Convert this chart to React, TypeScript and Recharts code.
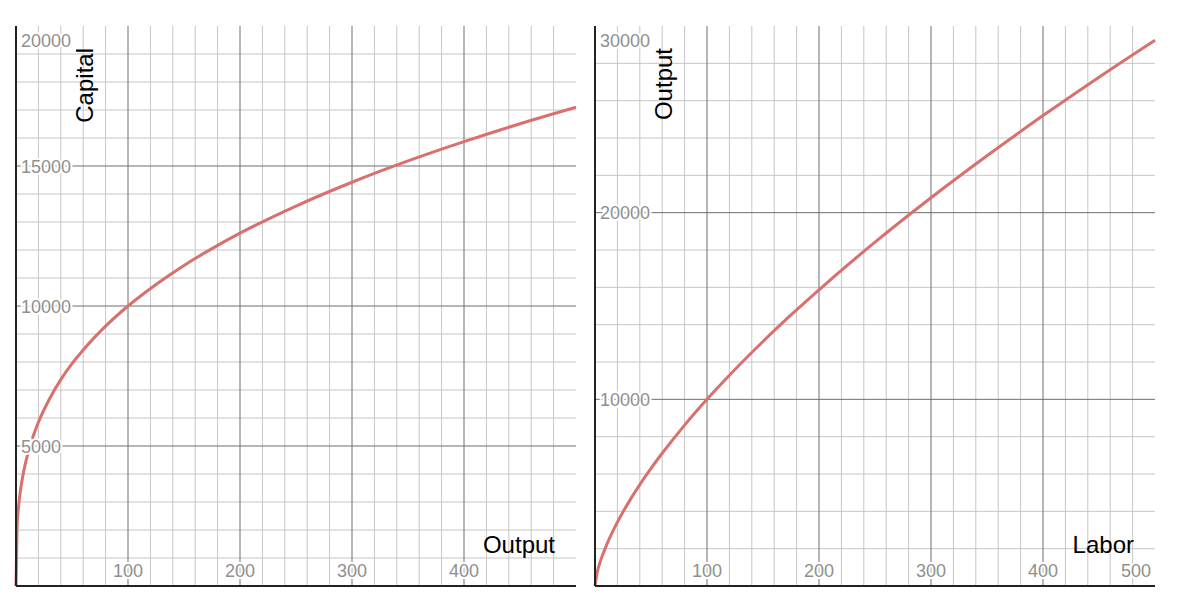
import { LineChart, Line, XAxis, YAxis, ReferenceLine, Label } from "recharts";

// left panel: capital needed per unit of output
const outputLevels = [0, 1, 2, 4, 6, 8, 10, 15, 20, 30, 40, 50, 60, 80, 100, 125, 150, 175, 200, 250, 300, 350, 400, 450, 500];
const capitalValues = [0, 2150, 2710, 3420, 3910, 4310, 4640, 5310, 5850, 6690, 7370, 7940, 8430, 9280, 10000, 10770, 11450, 12050, 12600, 13570, 14420, 15180, 15870, 16510, 17100];

// right panel: output per unit of labor
const laborLevels = [0, 2, 5, 10, 20, 30, 40, 50, 60, 80, 100, 125, 150, 175, 200, 250, 300, 350, 400, 450, 500];
const outputValues = [0, 740, 1360, 2150, 3420, 4480, 5430, 6300, 7110, 8620, 10000, 11600, 13100, 14520, 15870, 18420, 20800, 23050, 25200, 27260, 29240];

const xTickLabels = [100, 200, 300, 400];
const xTickLabelsRight = [100, 200, 300, 400, 500];
const xMinor = [20, 40, 60, 80, 120, 140, 160, 180, 220, 240, 260, 280, 320, 340, 360, 380, 420, 440, 460, 480];
const xMajor = [100, 200, 300, 400];

const leftYTicks = [5000, 10000, 15000, 20000];
const leftYMinor = [1000, 2000, 3000, 4000, 6000, 7000, 8000, 9000, 11000, 12000, 13000, 14000, 16000, 17000, 18000, 19000];
const leftYMajor = [5000, 10000, 15000];

const rightYTicks = [10000, 20000, 30000];
const rightYMinor = [2000, 4000, 6000, 8000, 12000, 14000, 16000, 18000, 22000, 24000, 26000, 28000];
const rightYMajor = [10000, 20000];

const FONT = "'Liberation Sans', Arial, sans-serif";
const CURVE = "#d8706e";
const MINOR = "#c6c6c6";
const MAJOR = "#6e6e6e";
const TICK = "#8f8f8f";

const halo = { stroke: "#fff", strokeWidth: 4, paintOrder: "stroke" as const };

function Panel({ data, xMax, yMax, xTicks, xMinorLines, yTicks, yMinorLines, yMajorLines, xLabel, yLabel, left, width, marginRight }: any) {
  const xTick = (p: any) => {
    const edge = p.payload.value >= xMax;
    return (
      <text key={p.payload.value} x={edge ? p.x - 4 : p.x} y={p.y - 9} textAnchor={edge ? "end" : "middle"}
        fontSize={18} fontFamily={FONT} fill={TICK} style={halo}>
        {p.payload.value}
      </text>
    );
  };
  const yTick = (p: any) => {
    const top = p.payload.value >= yMax;
    return (
      <text key={p.payload.value} x={p.x + 5} y={top ? p.y + 20.5 : p.y + 6.5} textAnchor="start"
        fontSize={18} fontFamily={FONT} fill={TICK} style={halo}>
        {p.payload.value}
      </text>
    );
  };

  return (
    <div style={{ position: "absolute", top: 0, left }}>
      <LineChart width={width} height={610} data={data} margin={{ top: 26, right: marginRight, bottom: 23, left: 15 }}>
        {xMinorLines.map((v: number) => (
          <ReferenceLine key={`xm${v}`} x={v} stroke={MINOR} strokeWidth={1} />
        ))}
        {yMinorLines.map((v: number) => (
          <ReferenceLine key={`ym${v}`} y={v} stroke={MINOR} strokeWidth={1} />
        ))}
        {xMajor.map((v) => (
          <ReferenceLine key={`xM${v}`} x={v} stroke={MAJOR} strokeWidth={1} />
        ))}
        {yMajorLines.map((v: number) => (
          <ReferenceLine key={`yM${v}`} y={v} stroke={MAJOR} strokeWidth={1} />
        ))}
        <XAxis dataKey="x" type="number" domain={[0, xMax]} ticks={xTicks} interval={0} height={1}
          tickSize={0} tickMargin={0} tick={xTick} axisLine={{ stroke: "#222", strokeWidth: 2 }}>
          <Label content={(props: any) => {
            const vb = props.viewBox;
            return (
              <text x={vb.x + vb.width - 21} y={vb.y - 33} textAnchor="end" fontSize={24} fontFamily={FONT} fill="#000">
                {xLabel}
              </text>
            );
          }} />
        </XAxis>
        <YAxis type="number" domain={[0, yMax]} ticks={yTicks} interval={0} width={1}
          tickSize={0} tickMargin={0} tick={yTick} axisLine={{ stroke: "#222", strokeWidth: 2 }}>
          <Label content={(props: any) => {
            const vb = props.viewBox;
            const bx = vb.x + vb.width + 77;
            const by = vb.y + 22;
            return (
              <text x={bx} y={by} transform={`rotate(-90 ${bx} ${by})`} textAnchor="end" fontSize={24} fontFamily={FONT} fill="#000">
                {yLabel}
              </text>
            );
          }} />
        </YAxis>
        <Line type="monotone" dataKey="y" stroke={CURVE} strokeWidth={3} dot={false} isAnimationActive={false} />
      </LineChart>
    </div>
  );
}

export default function App() {
  const capitalData = outputLevels.map((x, i) => ({ x, y: capitalValues[i] }));
  const laborData = laborLevels.map((x, i) => ({ x, y: outputValues[i] }));

  return (
    <div style={{ position: "absolute", top: 0, left: 0, width: 1191, height: 610, background: "#fff" }}>
      <Panel data={capitalData} xMax={500} yMax={20000} xTicks={xTickLabels} xMinorLines={xMinor}
        yTicks={leftYTicks} yMinorLines={leftYMinor} yMajorLines={leftYMajor}
        xLabel="Output" yLabel="Capital" left={0} width={590} marginRight={14} />
      <Panel data={laborData} xMax={500} yMax={30000} xTicks={xTickLabelsRight} xMinorLines={xMinor}
        yTicks={rightYTicks} yMinorLines={rightYMinor} yMajorLines={rightYMajor}
        xLabel="Labor" yLabel="Output" left={579} width={612} marginRight={36} />
    </div>
  );
}
